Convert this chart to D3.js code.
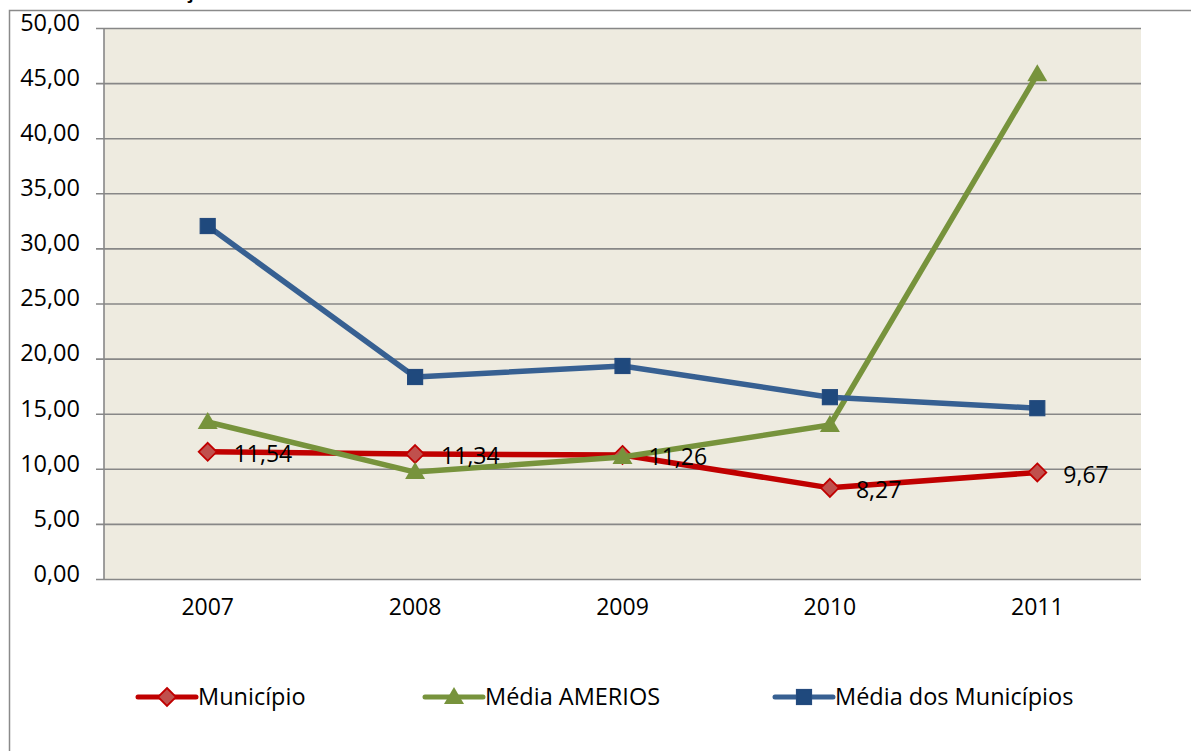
<!DOCTYPE html>
<html>
<head>
<meta charset="utf-8">
<script src="https://cdn.jsdelivr.net/npm/d3@7"></script>
<style>
  body { margin: 0; background: #fff; }
  svg { display: block; font-family: "Open Sans", sans-serif; }
</style>
</head>
<body>
<div id="chart"></div>
<script>
// chart values
let years = ["2007", "2008", "2009", "2010", "2011"];
let municipio = [11.54, 11.34, 11.26, 8.27, 9.67];
let mediaAmerios = [14.25, 9.7, 11.07, 13.97, 45.8];
let mediaMunicipios = [32.03, 18.33, 19.33, 16.5, 15.5];
let yTicks = [0, 5, 10, 15, 20, 25, 30, 35, 40, 45, 50];

let seriesList = [
    { name: "Município", values: municipio, line: "#C00000", fill: "#C0504D", stroke: "#C00000", shape: "diamond", labels: true },
    { name: "Média AMERIOS", values: mediaAmerios, line: "#77933C", fill: "#77933C", stroke: "#77933C", shape: "triangle", labels: false },
    { name: "Média dos Municípios", values: mediaMunicipios, line: "#376092", fill: "#1F497D", stroke: "#254B7E", shape: "square", labels: false }
];

let width = 1191, height = 751;
let plot = { left: 104, right: 1141, top: 28, bottom: 579 };

let svg = d3.select("#chart").append("svg")
    .attr("width", width)
    .attr("height", height);

// title sits mostly above the page edge, as in the source picture
svg.append("text")
    .attr("x", 4)
    .attr("y", -2)
    .attr("font-size", "21px")
    .attr("font-weight", "700")
    .attr("fill", "#000")
    .text("Gráfico 18 -  Evolução da taxa de abandono do Resultado final - 2007 a 2011");

// outer chart frame
svg.append("rect")
    .attr("x", 9.5)
    .attr("y", 10.5)
    .attr("width", width + 20)
    .attr("height", height + 20)
    .attr("fill", "#fff")
    .attr("stroke", "#8a8a8a")
    .attr("stroke-width", 1.5);

let x = d3.scaleBand()
    .domain(years)
    .range([plot.left, plot.right]);

let y = d3.scaleLinear()
    .domain([0, 50])
    .range([plot.bottom, plot.top]);

svg.append("rect")
    .attr("x", plot.left)
    .attr("y", plot.top)
    .attr("width", plot.right - plot.left)
    .attr("height", plot.bottom - plot.top)
    .attr("fill", "#EEEBE0");

// gridlines + left ticks
let yAxis = d3.axisLeft(y)
    .tickValues(yTicks)
    .tickSize(-(plot.right - plot.left))
    .tickPadding(24)
    .tickFormat(d => d3.format(".2f")(d).replace(".", ","));

let gy = svg.append("g")
    .attr("transform", `translate(${plot.left},0)`)
    .call(yAxis);
gy.select(".domain").remove();
gy.selectAll(".tick line")
    .attr("x1", -8)
    .attr("stroke", "#878787")
    .attr("stroke-width", 1.6);
gy.selectAll(".tick text")
    .attr("font-size", "23.5px")
    .attr("font-family", "Open Sans, sans-serif")
    .attr("fill", "#000")
    .attr("dy", "0.1em");

svg.append("line")
    .attr("x1", plot.left)
    .attr("x2", plot.left)
    .attr("y1", plot.top)
    .attr("y2", plot.bottom)
    .attr("stroke", "#878787")
    .attr("stroke-width", 1.6);

// x labels
let xAxis = d3.axisBottom(x).tickSize(0).tickPadding(20);
let gx = svg.append("g")
    .attr("transform", `translate(0,${plot.bottom})`)
    .call(xAxis);
gx.select(".domain").remove();
gx.selectAll(".tick text")
    .attr("font-size", "23px")
    .attr("font-family", "Open Sans, sans-serif")
    .attr("fill", "#000");

let cx = d => x(d) + x.bandwidth() / 2;

let line = d3.line()
    .x((d, i) => cx(years[i]))
    .y(d => y(d));

function drawMarker(g, shape, fill, stroke) {
    if (shape === "diamond") {
        g.append("path")
            .attr("d", "M0,-9L9,0L0,9L-9,0Z")
            .attr("fill", fill)
            .attr("stroke", stroke)
            .attr("stroke-width", 1.8);
    } else if (shape === "triangle") {
        g.append("path")
            .attr("d", "M0,-10L10,7L-10,7Z")
            .attr("fill", fill);
    } else {
        g.append("rect")
            .attr("x", -7.5)
            .attr("y", -7.5)
            .attr("width", 15)
            .attr("height", 15)
            .attr("fill", fill)
            .attr("stroke", stroke)
            .attr("stroke-width", 1.2);
    }
}

seriesList.forEach(s => {
    let g = svg.append("g");
    g.append("path")
        .datum(s.values)
        .attr("d", line)
        .attr("fill", "none")
        .attr("stroke", s.line)
        .attr("stroke-width", 5.5)
        .attr("stroke-linejoin", "round");

    s.values.forEach((v, i) => {
        let m = g.append("g").attr("transform", `translate(${cx(years[i])},${y(v)})`);
        drawMarker(m, s.shape, s.fill, s.stroke);
    });
});

// data labels for Município on top
seriesList.filter(s => s.labels).forEach(s => {
    svg.append("g").selectAll("text")
        .data(s.values)
        .join("text")
        .attr("x", (d, i) => cx(years[i]) + 26)
        .attr("y", d => y(d))
        .attr("dy", "0.45em")
        .attr("font-size", "23px")
        .attr("fill", "#000")
        .text(d => d3.format(".2f")(d).replace(".", ","));
});

// legend
let legendX = [138, 425, 775];
let legendY = 697;
seriesList.forEach((s, i) => {
    let g = svg.append("g").attr("transform", `translate(${legendX[i]},${legendY})`);
    g.append("line")
        .attr("x1", 0)
        .attr("x2", 58)
        .attr("stroke", s.line)
        .attr("stroke-width", 5)
        .attr("stroke-linecap", "round");
    let m = g.append("g").attr("transform", "translate(29,0)");
    drawMarker(m, s.shape, s.fill, s.stroke);
    g.append("text")
        .attr("x", 60)
        .attr("dy", "0.36em")
        .attr("font-size", "23.5px")
        .attr("fill", "#000")
        .text(s.name);
});
</script>
</body>
</html>
